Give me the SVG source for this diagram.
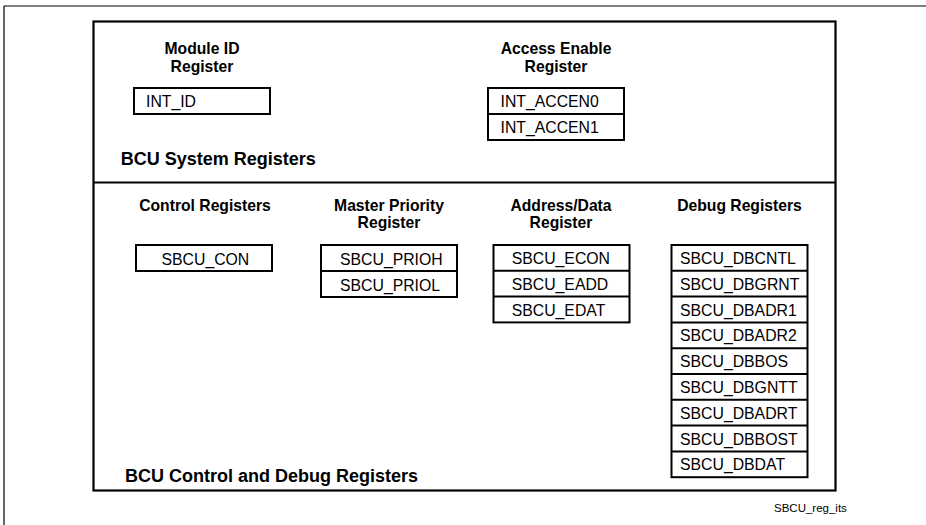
<svg xmlns="http://www.w3.org/2000/svg" width="926" height="525" viewBox="0 0 926 525">
<style>
.frame{fill:none;stroke:#000;stroke-width:1.2}
.main{fill:none;stroke:#000;stroke-width:2.2}
.box{fill:#fff;stroke:#000;stroke-width:2}
.row{stroke:#000;stroke-width:2}
.h{font-family:"Liberation Sans",Arial,sans-serif;font-weight:bold;font-size:15.7px;text-anchor:middle;fill:#000}
.sec{font-family:"Liberation Sans",Arial,sans-serif;font-weight:bold;font-size:18px;fill:#000}
.r{font-family:"Liberation Sans",Arial,sans-serif;font-size:15.8px;fill:#000}
.cap{font-family:"Liberation Sans",Arial,sans-serif;font-size:11.5px;fill:#000}
</style>
<rect width="926" height="525" fill="#fff"/>
<g id="page-frame">
<line class="frame" x1="4" y1="6" x2="926" y2="6"/>
<line class="frame" x1="4" y1="6" x2="4" y2="525"/>
</g>
<g id="bcu-frame">
<rect class="main" x="93.5" y="21.5" width="742" height="469"/>
<line class="main" x1="93.5" y1="182.5" x2="835.5" y2="182.5"/>
<text class="sec" x="120.7" y="165">BCU System Registers</text>
<text class="sec" x="125" y="481.5">BCU Control and Debug Registers</text>
</g>
<g id="module-id">
<text class="h" x="202" y="54.3">Module ID</text>
<text class="h" x="202" y="71.8">Register</text>
<rect class="box" x="134" y="88" width="136" height="26"/>
<text class="r" x="146" y="107">INT_ID</text>
</g>
<g id="access-enable">
<text class="h" x="556" y="54.3">Access Enable</text>
<text class="h" x="556" y="71.8">Register</text>
<rect class="box" x="488" y="88" width="136" height="52"/>
<line class="row" x1="488" y1="114" x2="624" y2="114"/>
<text class="r" x="500.5" y="107">INT_ACCEN0</text>
<text class="r" x="500.5" y="133">INT_ACCEN1</text>
</g>
<g id="control">
<text class="h" x="205" y="210.7">Control Registers</text>
<rect class="box" x="136" y="245" width="136" height="26"/>
<text class="r" x="161.5" y="264.5">SBCU_CON</text>
</g>
<g id="master-priority">
<text class="h" x="389" y="210.7">Master Priority</text>
<text class="h" x="389" y="228.3">Register</text>
<rect class="box" x="321" y="245" width="136" height="52"/>
<line class="row" x1="321" y1="271" x2="457" y2="271"/>
<text class="r" x="340" y="264.5">SBCU_PRIOH</text>
<text class="r" x="340" y="290.5">SBCU_PRIOL</text>
</g>
<g id="address-data">
<text class="h" x="561" y="210.7">Address/Data</text>
<text class="h" x="561" y="228.3">Register</text>
<rect class="box" x="493.5" y="245" width="136" height="77.4"/>
<line class="row" x1="493.5" y1="270.8" x2="629.5" y2="270.8"/>
<line class="row" x1="493.5" y1="296.6" x2="629.5" y2="296.6"/>
<text class="r" x="511.7" y="264">SBCU_ECON</text>
<text class="r" x="511.7" y="289.8">SBCU_EADD</text>
<text class="r" x="511.7" y="315.6">SBCU_EDAT</text>
</g>
<g id="debug">
<text class="h" x="739.5" y="210.7">Debug Registers</text>
<rect class="box" x="671.5" y="245" width="136" height="232.2"/>
<line class="row" x1="671.5" y1="270.8" x2="807.5" y2="270.8"/>
<line class="row" x1="671.5" y1="296.6" x2="807.5" y2="296.6"/>
<line class="row" x1="671.5" y1="322.4" x2="807.5" y2="322.4"/>
<line class="row" x1="671.5" y1="348.2" x2="807.5" y2="348.2"/>
<line class="row" x1="671.5" y1="374" x2="807.5" y2="374"/>
<line class="row" x1="671.5" y1="399.8" x2="807.5" y2="399.8"/>
<line class="row" x1="671.5" y1="425.6" x2="807.5" y2="425.6"/>
<line class="row" x1="671.5" y1="451.4" x2="807.5" y2="451.4"/>
<text class="r" x="680" y="264">SBCU_DBCNTL</text>
<text class="r" x="680" y="289.8">SBCU_DBGRNT</text>
<text class="r" x="680" y="315.6">SBCU_DBADR1</text>
<text class="r" x="680" y="341.4">SBCU_DBADR2</text>
<text class="r" x="680" y="367.2">SBCU_DBBOS</text>
<text class="r" x="680" y="393">SBCU_DBGNTT</text>
<text class="r" x="680" y="418.8">SBCU_DBADRT</text>
<text class="r" x="680" y="444.6">SBCU_DBBOST</text>
<text class="r" x="680" y="470.4">SBCU_DBDAT</text>
</g>
<g id="connectors"/>
<text class="cap" x="774" y="511.5">SBCU_reg_its</text>
</svg>
